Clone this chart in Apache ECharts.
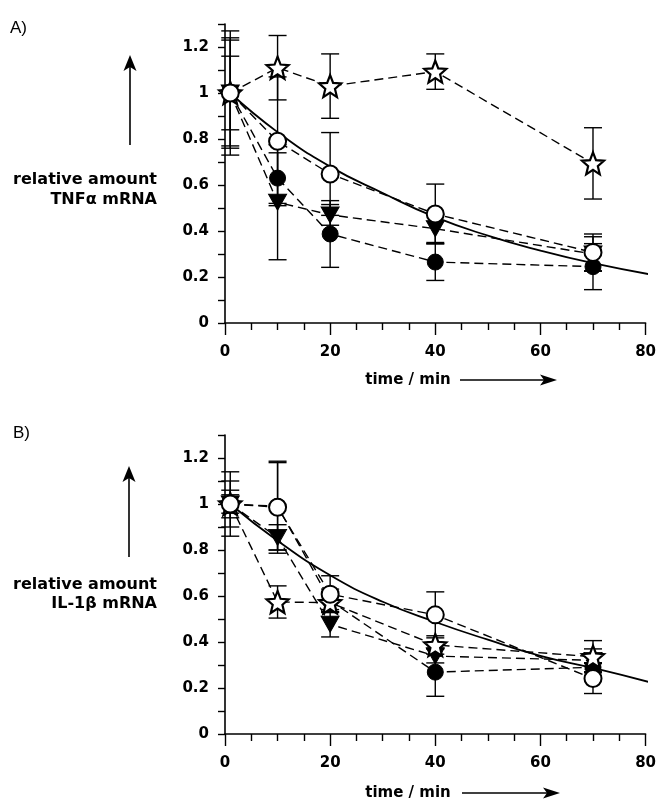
<!DOCTYPE html>
<html>
<head>
<meta charset="utf-8">
<script src="https://cdn.jsdelivr.net/npm/echarts@6/dist/echarts.min.js"></script>
<style>html,body{margin:0;padding:0;background:#fff;}#c{width:659px;height:800px;}</style>
</head>
<body>
<div id="c"></div>
<script>
// ---- data ----
const times = [1, 10, 20, 40, 70];
// Panel A (TNFα)
const aOpenCircle = [1.0, 0.79, 0.648, 0.474, 0.307];
const aOpenCircleErr = [0.23, 0.28, 0.18, 0.13, 0.08];
const aFilledCircle = [1.0, 0.63, 0.387, 0.265, 0.245];
const aFilledCircleErr = [0.24, 0.11, 0.145, 0.08, 0.10];
const aTriangle = [1.0, 0.525, 0.47, 0.41, 0.30];
const aTriangleErr = [0.16, 0.25, 0.045, 0.06, 0.075];
const aStar = [1.0, 1.11, 1.03, 1.093, 0.694];
const aStarErr = [0.27, 0.14, 0.14, 0.077, 0.155];
// Panel B (IL-1β)
const bOpenCircle = [1.0, 0.986, 0.608, 0.518, 0.241];
const bOpenCircleErr = [0.14, 0.2, 0.08, 0.10, 0.065];
const bFilledCircle = [1.0, 0.99, 0.58, 0.269, 0.29];
const bFilledCircleErr = [0.10, 0.19, 0.05, 0.105, 0.02];
const bTriangle = [1.0, 0.855, 0.477, 0.339, 0.32];
const bTriangleErr = [0.06, 0.055, 0.055, 0.03, 0.05];
const bStar = [1.0, 0.574, 0.571, 0.387, 0.336];
const bStarErr = [0.04, 0.07, 0.03, 0.04, 0.07];
// fitted curves
const fitTimes = [1, 10, 20, 30, 40, 50, 60, 70, 80.5];
const aFit = [1.0, 0.83, 0.68, 0.565, 0.46, 0.38, 0.315, 0.26, 0.213];
const bFit = [1.0, 0.84, 0.69, 0.575, 0.487, 0.41, 0.34, 0.287, 0.227];

// ---- styles ----
const FONT = 'DejaVu Sans';
const STAR = 'path://M50,0 L62.93,32.2 L97.55,34.55 L70.92,56.8 L79.39,90.45 L50,72 L20.61,90.45 L29.08,56.8 L2.45,34.55 L37.07,32.2 Z';
const TRI = 'path://M0,0 L100,0 L50,87 Z';
const markers = {
  open: {symbol: 'circle', symbolSize: 17, itemStyle: {color: '#fff', borderColor: '#000', borderWidth: 2, opacity: 1}},
  filled: {symbol: 'circle', symbolSize: 16, itemStyle: {color: '#000', borderColor: '#000', borderWidth: 1, opacity: 1}},
  tri: {symbol: TRI, symbolSize: [18, 16], itemStyle: {color: '#000', borderColor: '#000', borderWidth: 1, opacity: 1}},
  star: {symbol: STAR, symbolSize: 22, itemStyle: {color: '#fff', borderColor: '#000', borderWidth: 2.2, opacity: 1}}
};

function pairs(xs, ys) { return xs.map((x, i) => [x, ys[i]]); }
function triples(xs, ys, es) { return xs.map((x, i) => [x, ys[i], es[i]]); }

function errRender(params, api) {
  const x = api.value(0), y = api.value(1), e = api.value(2);
  const top = api.coord([x, y + e]);
  const bot = api.coord([x, y - e]);
  const hw = 9;
  const style = {stroke: '#000', lineWidth: 1.4, fill: null};
  return {type: 'group', children: [
    {type: 'line', shape: {x1: top[0], y1: top[1], x2: bot[0], y2: bot[1]}, style: style},
    {type: 'line', shape: {x1: top[0] - hw, y1: top[1], x2: top[0] + hw, y2: top[1]}, style: style},
    {type: 'line', shape: {x1: bot[0] - hw, y1: bot[1], x2: bot[0] + hw, y2: bot[1]}, style: style}
  ]};
}

function panelSeries(idx, fit, sets) {
  const out = [];
  out.push({type: 'line', xAxisIndex: idx, yAxisIndex: idx, data: pairs(fitTimes, fit), smooth: true,
    showSymbol: false, symbol: 'none', clip: false, lineStyle: {color: '#000', width: 1.8}, z: 2, silent: true});
  sets.forEach(s => {
    out.push({type: 'custom', xAxisIndex: idx, yAxisIndex: idx, renderItem: errRender,
      data: triples(times, s.y, s.e), encode: {x: 0, y: 1}, z: 3, silent: true});
  });
  sets.forEach(s => {
    out.push({type: 'line', xAxisIndex: idx, yAxisIndex: idx, data: pairs(times, s.y), showSymbol: false, symbol: 'none',
      lineStyle: {color: '#000', width: 1.4, type: [9, 5]}, z: 4, silent: true});
  });
  sets.forEach(s => {
    const m = markers[s.m];
    out.push({type: 'scatter', xAxisIndex: idx, yAxisIndex: idx, data: pairs(times, s.y),
      symbol: m.symbol, symbolSize: m.symbolSize, itemStyle: m.itemStyle, z: 5, silent: true});
  });
  return out;
}

function yAxisCfg(gi) {
  return {type: 'value', gridIndex: gi, min: 0, max: 1.3, interval: 0.1,
    axisLine: {show: true, onZero: false, lineStyle: {color: '#000', width: 1.6}},
    axisTick: {show: true, length: 7, lineStyle: {color: '#000', width: 1.4}},
    splitLine: {show: false},
    axisLabel: {margin: 16, color: '#000', fontFamily: FONT, fontWeight: 'bold', fontSize: 15,
      formatter: v => { const r = Math.round(v * 10); return r % 2 === 0 ? String(r / 10) : ''; }}
  };
}
function xAxisCfg(gi) {
  return {type: 'value', gridIndex: gi, min: 0, max: 80, interval: 20,
    axisLine: {show: true, onZero: false, lineStyle: {color: '#000', width: 1.6}},
    axisTick: {show: true, length: 12, lineStyle: {color: '#000', width: 1.4}},
    minorTick: {show: true, splitNumber: 4, length: 7, lineStyle: {color: '#000', width: 1.4}},
    splitLine: {show: false}, minorSplitLine: {show: false},
    axisLabel: {margin: 22, color: '#000', fontFamily: FONT, fontWeight: 'bold', fontSize: 15}
  };
}

function arrowUp(x, yTop, yBot) {
  return [
    {type: 'line', shape: {x1: x, y1: yBot, x2: x, y2: yTop + 8}, style: {stroke: '#000', lineWidth: 1.6}},
    {type: 'polygon', shape: {points: [[x, yTop], [x - 6.5, yTop + 16], [x, yTop + 12], [x + 6.5, yTop + 16]]}, style: {fill: '#000'}}
  ];
}
function arrowRight(xL, xR, y) {
  return [
    {type: 'line', shape: {x1: xL, y1: y, x2: xR - 8, y2: y}, style: {stroke: '#000', lineWidth: 1.6}},
    {type: 'polygon', shape: {points: [[xR, y], [xR - 17, y - 5.5], [xR - 13, y], [xR - 17, y + 5.5]]}, style: {fill: '#000'}}
  ];
}
function txt(x, y, s, opt) {
  return Object.assign({type: 'text', x: x, y: y, style: Object.assign({text: s, fill: '#000',
    font: 'bold 16px "' + FONT + '"', textAlign: 'right', textVerticalAlign: 'middle'}, opt || {})});
}

const graphics = [].concat(
  [txt(10, 28, 'A)', {font: '17px "Liberation Sans"', textAlign: 'left'}),
   txt(13, 433, 'B)', {font: '17px "Liberation Sans"', textAlign: 'left'}),
   txt(157, 180, 'relative amount'),
   txt(157, 200, 'TNFα mRNA'),
   txt(157, 585, 'relative amount'),
   txt(157, 604, 'IL-1β mRNA'),
   txt(408, 380, 'time / min', {font: 'bold 15px "' + FONT + '"', textAlign: 'center'}),
   txt(408, 793, 'time / min', {font: 'bold 15px "' + FONT + '"', textAlign: 'center'})],
  arrowUp(130, 55, 145), arrowUp(129, 466, 557),
  arrowRight(460, 557, 380), arrowRight(462, 560, 793)
);

const chart = echarts.init(document.getElementById('c'), null, {renderer: 'canvas'});
chart.setOption({
  animation: false,
  backgroundColor: '#fff',
  textStyle: {fontFamily: FONT},
  grid: [
    {left: 225, top: 24, width: 423, height: 299},
    {left: 225, top: 435, width: 423, height: 299}
  ],
  xAxis: [xAxisCfg(0), xAxisCfg(1)],
  yAxis: [yAxisCfg(0), yAxisCfg(1)],
  series: [].concat(
    panelSeries(0, aFit, [
      {y: aTriangle, e: aTriangleErr, m: 'tri'},
      {y: aFilledCircle, e: aFilledCircleErr, m: 'filled'},
      {y: aStar, e: aStarErr, m: 'star'},
      {y: aOpenCircle, e: aOpenCircleErr, m: 'open'}
    ]),
    panelSeries(1, bFit, [
      {y: bTriangle, e: bTriangleErr, m: 'tri'},
      {y: bFilledCircle, e: bFilledCircleErr, m: 'filled'},
      {y: bStar, e: bStarErr, m: 'star'},
      {y: bOpenCircle, e: bOpenCircleErr, m: 'open'}
    ])
  ),
  graphic: graphics
});
</script>
</body>
</html>
